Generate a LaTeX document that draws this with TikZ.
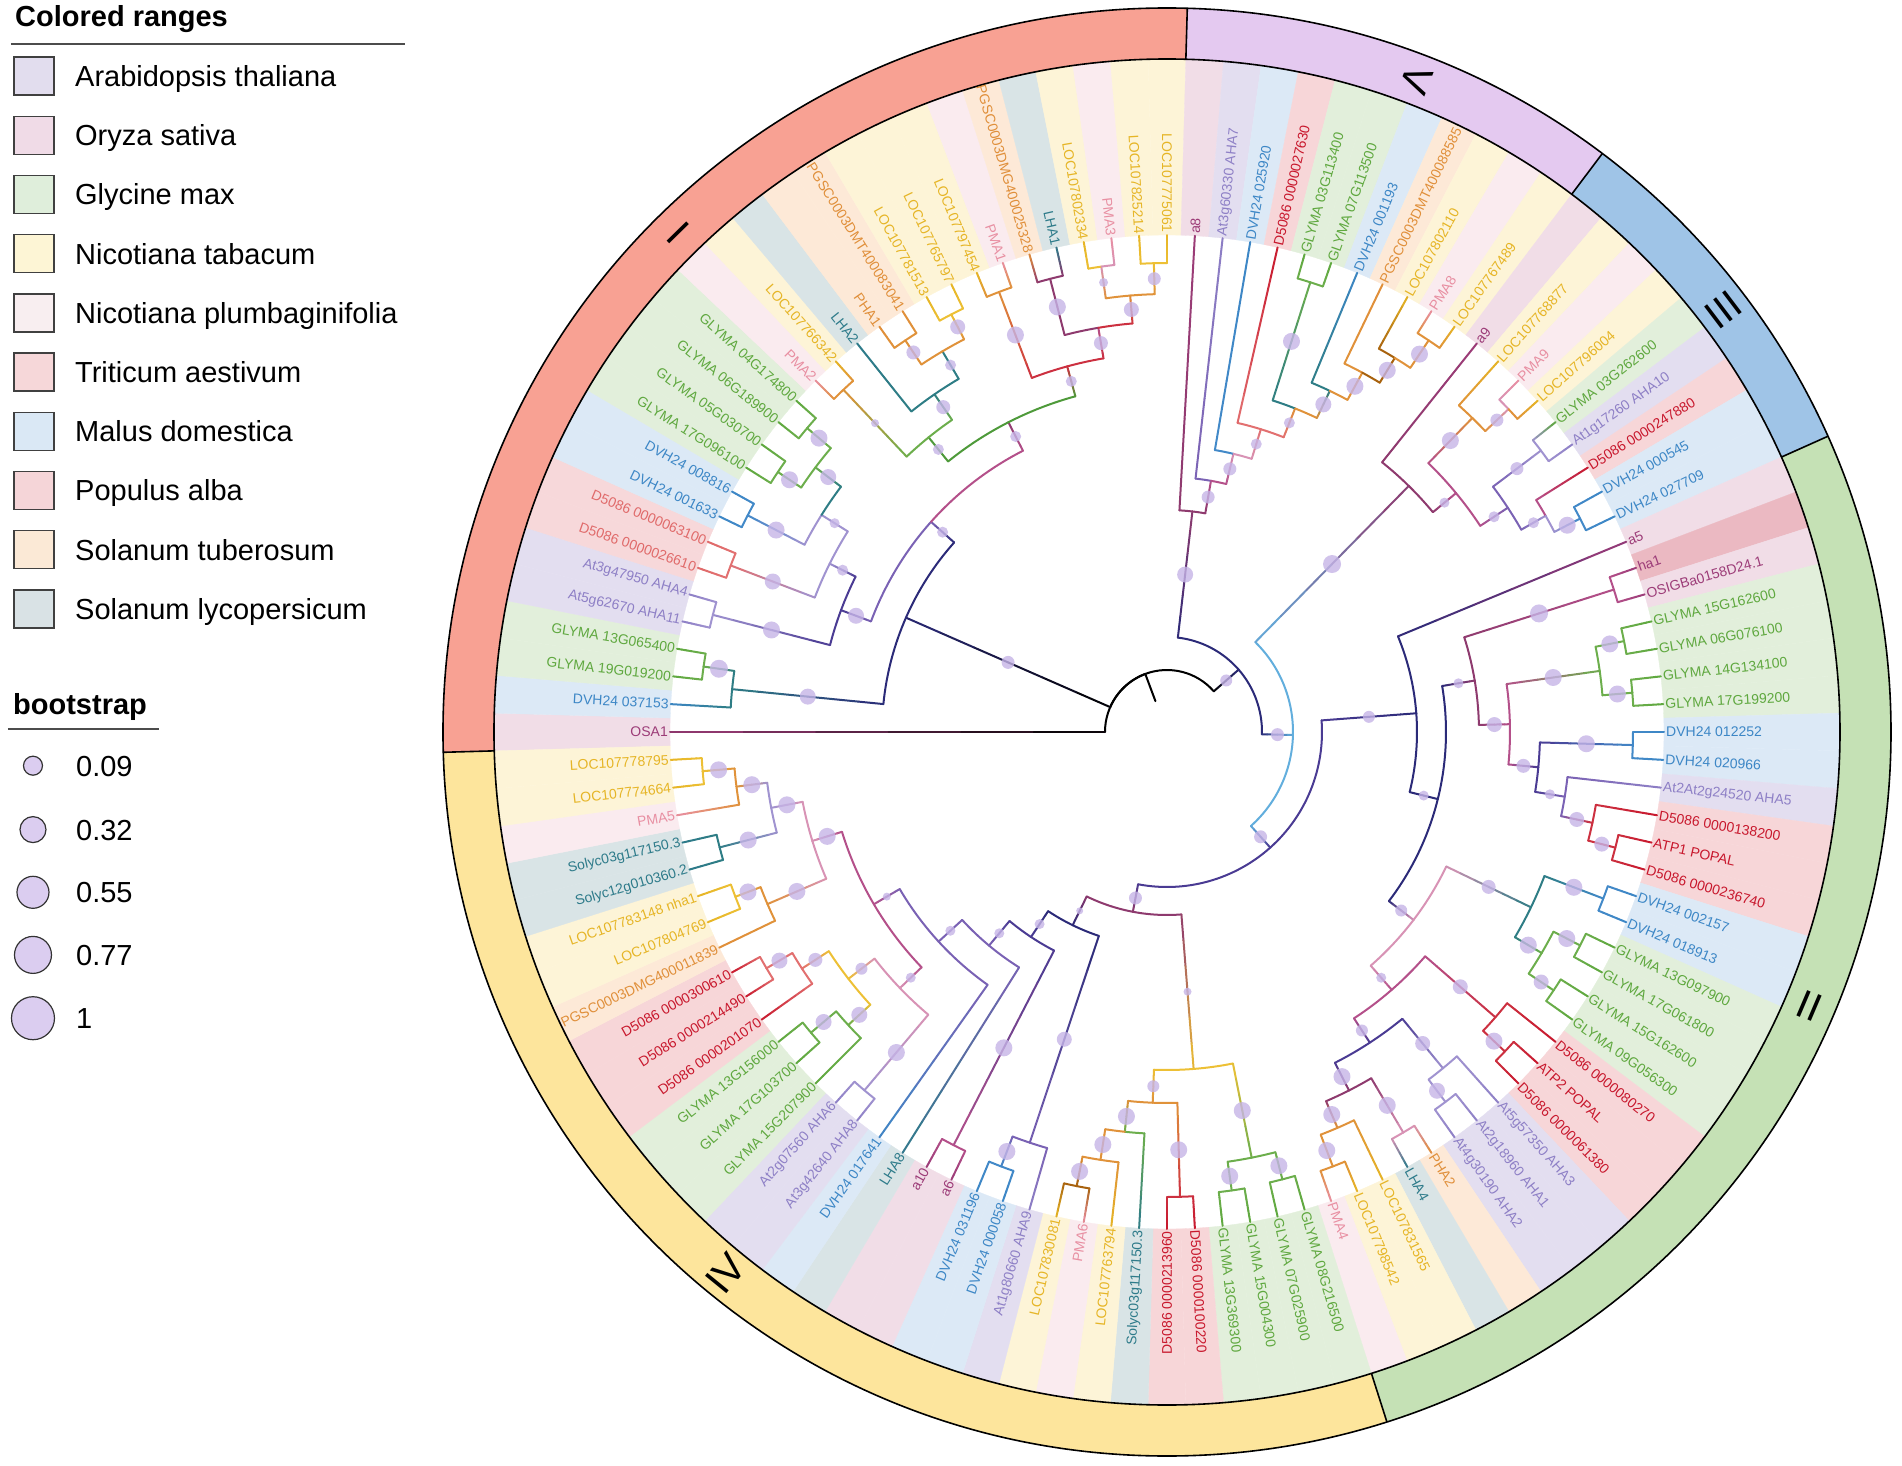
\documentclass[tikz,border=0pt]{standalone}
\usepackage{fontspec}
\setmainfont{Liberation Sans}
\pgfdeclarelayer{bg}
\pgfdeclarelayer{fg}
\pgfsetlayers{bg,main,fg}
% branch colours
\definecolor{nav}{HTML}{2B2A78}
\definecolor{dpur}{HTML}{4A3B93}
\definecolor{pur}{HTML}{7A62B4}
\definecolor{lav}{HTML}{A093D0}
\definecolor{mar}{HTML}{8E3A6E}
\definecolor{mag}{HTML}{B4508A}
\definecolor{pnk}{HTML}{D893B5}
\definecolor{tea}{HTML}{2E7D85}
\definecolor{grn}{HTML}{6CAE4C}
\definecolor{dgrn}{HTML}{4E9A3A}
\definecolor{org}{HTML}{E0923A}
\definecolor{brn}{HTML}{A8620E}
\definecolor{yel}{HTML}{EDC035}
\definecolor{blu}{HTML}{4289C8}
\definecolor{lblu}{HTML}{62AEDD}
\definecolor{rd}{HTML}{CC3040}
\definecolor{slm}{HTML}{E27070}
% text colours
\definecolor{tAt}{HTML}{8E80C6}
\definecolor{tGly}{HTML}{5FA83F}
\definecolor{tMal}{HTML}{3D87C6}
\definecolor{tPop}{HTML}{C8182D}
\definecolor{tPopL}{HTML}{E06A6A}
\definecolor{tTab}{HTML}{E6B526}
\definecolor{tPlu}{HTML}{E88FA2}
\definecolor{tTub}{HTML}{E08F3A}
\definecolor{tLyc}{HTML}{2E7B8A}
\definecolor{tOry}{HTML}{9C3C78}
% band colours
\definecolor{bAt}{HTML}{E3DEF0}
\definecolor{bOry}{HTML}{F1DDE7}
\definecolor{bGly}{HTML}{E2EFDB}
\definecolor{bTab}{HTML}{FDF4D7}
\definecolor{bPlu}{HTML}{FAEBEF}
\definecolor{bTri}{HTML}{F7D8DA}
\definecolor{bMal}{HTML}{DCE9F6}
\definecolor{bPop}{HTML}{F7D6D8}
\definecolor{bTub}{HTML}{FDE9D7}
\definecolor{bLyc}{HTML}{D9E4E6}
\definecolor{bHa}{HTML}{EBB9C2}
% legend colours
\definecolor{lgAt}{HTML}{E2DDEE}
\definecolor{lgOry}{HTML}{F0DBE7}
\definecolor{lgGly}{HTML}{DFEEDB}
\definecolor{lgTab}{HTML}{FDF5D5}
\definecolor{lgPlu}{HTML}{F8EEF0}
\definecolor{lgTri}{HTML}{F6D7D9}
\definecolor{lgMal}{HTML}{DAE8F5}
\definecolor{lgPop}{HTML}{F5D5D8}
\definecolor{lgTub}{HTML}{FBE9D6}
\definecolor{lgLyc}{HTML}{D9E2E5}
\definecolor{bootl}{HTML}{DBCDF0}
\definecolor{bootc}{HTML}{C5B4E6}
% ring colours
\definecolor{rI}{HTML}{F8A193}
\definecolor{rV}{HTML}{E4C9F0}
\definecolor{rIII}{HTML}{9FC4E7}
\definecolor{rII}{HTML}{C5E1B5}
\definecolor{rIV}{HTML}{FDE59C}
\tikzset{
  br/.style={line width=2pt,line cap=round},
  boot/.style={fill=bootc,fill opacity=0.8},
  lbl/.style={font=\fontsize{14}{16}\selectfont,inner sep=1pt},
  lgt/.style={font=\fontsize{29}{34}\selectfont,inner sep=0pt},
  lgh/.style={font=\bfseries\fontsize{29}{34}\selectfont,inner sep=0pt},
  rn/.style={font=\fontsize{40}{44}\selectfont,inner sep=0pt},
}
% edge: parent pos, parent r, child pos, child r, colour at parent, colour at child
\newcommand\TE[6]{%
  \pgfmathsetmacro\eA{180-(#1-1)*3.2142857}%
  \pgfmathsetmacro\eB{180-(#3-1)*3.2142857}%
  \draw[br,color=#5] (\eA:#2pt) arc[start angle=\eA,end angle=\eB,radius=#2pt];%
  \foreach \kk in {0,...,5}{%
    \pgfmathsetmacro\ra{#2+(#4-#2)*\kk/6}%
    \pgfmathsetmacro\rb{#2+(#4-#2)*(\kk+1)/6}%
    \pgfmathtruncatemacro\pc{(\kk+0.5)*100/6}%
    \draw[br,color=#6!\pc!#5] (\eB:\ra pt) -- (\eB:\rb pt);%
  }%
}
% edge to an internal node, with bootstrap dot
\newcommand\TN[7]{\TE{#1}{#2}{#3}{#4}{#5}{#6}%
  \pgfmathsetmacro\eM{(#2+#4)/2}%
  \begin{pgfonlayer}{fg}\fill[boot] (\eB:\eM pt) circle[radius=#7pt];\end{pgfonlayer}}
% leaf: index, label, text colour, band colour
\newcommand\Lf[4]{%
  \pgfmathsetmacro\lfA{180-(#1-1)*3.2142857}%
  \pgfmathsetmacro\lfB{\lfA+1.6071429}%
  \pgfmathsetmacro\lfC{\lfA-1.6071429}%
  \begin{pgfonlayer}{bg}%
  \filldraw[fill=#4,draw=#4,line width=0.3pt] (\lfB:497pt) arc[start angle=\lfB,end angle=\lfC,radius=497pt] -- (\lfC:673pt) arc[start angle=\lfC,end angle=\lfB,radius=673pt] -- cycle;%
  \end{pgfonlayer}%
  \pgfmathtruncatemacro\lfS{cos(\lfA)>0.001}%
  \ifnum\lfS=1
    \node[lbl,text=#3,rotate=\lfA,anchor=west] (L#1) at (\lfA:498pt) {#2};%
  \else
    \pgfmathsetmacro\lfR{\lfA+180}%
    \node[lbl,text=#3,rotate=\lfR,anchor=east] (L#1) at (\lfA:498pt) {#2};%
  \fi}
\newcommand\RingSec[3]{%
  \fill[#3] (#1:673pt) arc[start angle=#1,end angle=#2,radius=673pt] -- (#2:724pt) arc[start angle=#2,end angle=#1,radius=724pt] -- cycle;}
\newcommand\Lg[3]{%
  \pgfmathsetmacro\lgy{732-(76.1+#1*59.2)}%
  \node[draw=black!75,line width=1.5pt,fill=#3,minimum width=40pt,minimum height=38pt,inner sep=0pt] (lb#1) at (-1133,\lgy) {};%
  \node[lgt,anchor=base west] (lt#1) at (-1092,\lgy-10.4) {#2};}
\newcommand\Lb[4]{%
  \node[circle,draw=black!80,line width=1.2pt,fill=bootl,minimum size=#2pt,inner sep=0pt] (bc#4) at (-1134,#1) {};%
  \node[lgt,anchor=base west] (bl#4) at (-1091,#1-10.4) {#3};}
\begin{document}
\begin{tikzpicture}[x=1pt,y=1pt]
\useasboundingbox (-1167,-733) rectangle (735,732);
% ---------- outer clade ring ----------
\begin{pgfonlayer}{bg}
\RingSec{88.393}{181.607}{rI}
\RingSec{53.036}{88.393}{rV}
\RingSec{24.107}{53.036}{rIII}
\RingSec{-72.321}{24.107}{rII}
\RingSec{-178.393}{-72.321}{rIV}
\end{pgfonlayer}
\draw[line width=1.6pt] (0,0) circle[radius=673pt];
\draw[line width=1.6pt] (0,0) circle[radius=724pt];
\foreach \a in {88.393,53.036,24.107,-72.321,181.607}{\draw[line width=1.6pt] (\a:673pt) -- (\a:724pt);}
\node[rn,rotate=314.4] (nI) at (134.4:698.5pt) {I};
\node[rn,rotate=249.1] (nV) at (69.1:698.5pt) {V};
\node[rn,rotate=217.2] (nIII) at (37.2:698.5pt) {III};
\node[rn,rotate=156.9] (nII) at (-23.1:698.5pt) {II};
\node[rn,rotate=50.8] (nIV) at (230.8:698.5pt) {IV};
% ---------- leaves ----------
\Lf{1}{OSA1}{tOry}{bOry}
\Lf{2}{DVH24 037153}{tMal}{bMal}
\Lf{3}{GLYMA 19G019200}{tGly}{bGly}
\Lf{4}{GLYMA 13G065400}{tGly}{bGly}
\Lf{5}{At5g62670 AHA11}{tAt}{bAt}
\Lf{6}{At3g47950 AHA4}{tAt}{bAt}
\Lf{7}{D5086 0000026610}{tPopL}{bTri}
\Lf{8}{D5086 0000063100}{tPopL}{bTri}
\Lf{9}{DVH24 001633}{tMal}{bMal}
\Lf{10}{DVH24 008816}{tMal}{bMal}
\Lf{11}{GLYMA 17G096100}{tGly}{bGly}
\Lf{12}{GLYMA 05G030700}{tGly}{bGly}
\Lf{13}{GLYMA 06G189900}{tGly}{bGly}
\Lf{14}{GLYMA 04G174800}{tGly}{bGly}
\Lf{15}{PMA2}{tPlu}{bPlu}
\Lf{16}{LOC107766342}{tTab}{bTab}
\Lf{17}{LHA2}{tLyc}{bLyc}
\Lf{18}{PHA1}{tTub}{bTub}
\Lf{19}{PGSC0003DMT400083041}{tTub}{bTub}
\Lf{20}{LOC107781513}{tTab}{bTab}
\Lf{21}{LOC107765797}{tTab}{bTab}
\Lf{22}{LOC107797454}{tTab}{bTab}
\Lf{23}{PMA1}{tPlu}{bPlu}
\Lf{24}{PGSC0003DMG400025328}{tTub}{bTub}
\Lf{25}{LHA1}{tLyc}{bLyc}
\Lf{26}{LOC107802334}{tTab}{bTab}
\Lf{27}{PMA3}{tPlu}{bPlu}
\Lf{28}{LOC107825214}{tTab}{bTab}
\Lf{29}{LOC107775061}{tTab}{bTab}
\Lf{30}{a8}{tOry}{bOry}
\Lf{31}{At3g60330 AHA7}{tAt}{bAt}
\Lf{32}{DVH24 025920}{tMal}{bMal}
\Lf{33}{D5086 0000027630}{tPop}{bPop}
\Lf{34}{GLYMA 03G113400}{tGly}{bGly}
\Lf{35}{GLYMA 07G113500}{tGly}{bGly}
\Lf{36}{DVH24 001193}{tMal}{bMal}
\Lf{37}{PGSC0003DMT400088585}{tTub}{bTub}
\Lf{38}{LOC107802110}{tTab}{bTab}
\Lf{39}{PMA8}{tPlu}{bPlu}
\Lf{40}{LOC107767489}{tTab}{bTab}
\Lf{41}{a9}{tOry}{bOry}
\Lf{42}{LOC107768877}{tTab}{bTab}
\Lf{43}{PMA9}{tPlu}{bPlu}
\Lf{44}{LOC107796004}{tTab}{bTab}
\Lf{45}{GLYMA 03G262600}{tGly}{bGly}
\Lf{46}{At1g17260 AHA10}{tAt}{bAt}
\Lf{47}{D5086 0000247880}{tPop}{bPop}
\Lf{48}{DVH24 000545}{tMal}{bMal}
\Lf{49}{DVH24 027709}{tMal}{bMal}
\Lf{50}{a5}{tOry}{bOry}
\Lf{51}{ha1}{tOry}{bHa}
\Lf{52}{OSIGBa0158D24.1}{tOry}{bOry}
\Lf{53}{GLYMA 15G162600}{tGly}{bGly}
\Lf{54}{GLYMA 06G076100}{tGly}{bGly}
\Lf{55}{GLYMA 14G134100}{tGly}{bGly}
\Lf{56}{GLYMA 17G199200}{tGly}{bGly}
\Lf{57}{DVH24 012252}{tMal}{bMal}
\Lf{58}{DVH24 020966}{tMal}{bMal}
\Lf{59}{At2At2g24520 AHA5}{tAt}{bAt}
\Lf{60}{D5086 0000138200}{tPop}{bPop}
\Lf{61}{ATP1 POPAL}{tPop}{bPop}
\Lf{62}{D5086 0000236740}{tPop}{bPop}
\Lf{63}{DVH24 002157}{tMal}{bMal}
\Lf{64}{DVH24 018913}{tMal}{bMal}
\Lf{65}{GLYMA 13G097900}{tGly}{bGly}
\Lf{66}{GLYMA 17G061800}{tGly}{bGly}
\Lf{67}{GLYMA 15G162600}{tGly}{bGly}
\Lf{68}{GLYMA 09G056300}{tGly}{bGly}
\Lf{69}{D5086 0000080270}{tPop}{bPop}
\Lf{70}{ATP2 POPAL}{tPop}{bPop}
\Lf{71}{D5086 0000061380}{tPop}{bPop}
\Lf{72}{At5g57350 AHA3}{tAt}{bAt}
\Lf{73}{At2g18960 AHA1}{tAt}{bAt}
\Lf{74}{At4g30190 AHA2}{tAt}{bAt}
\Lf{75}{PHA2}{tTub}{bTub}
\Lf{76}{LHA4}{tLyc}{bLyc}
\Lf{77}{LOC107831565}{tTab}{bTab}
\Lf{78}{LOC107798542}{tTab}{bTab}
\Lf{79}{PMA4}{tPlu}{bPlu}
\Lf{80}{GLYMA 08G216500}{tGly}{bGly}
\Lf{81}{GLYMA 07G025900}{tGly}{bGly}
\Lf{82}{GLYMA 15G004300}{tGly}{bGly}
\Lf{83}{GLYMA 13G369300}{tGly}{bGly}
\Lf{84}{D5086 0000100220}{tPop}{bPop}
\Lf{85}{D5086 0000213960}{tPop}{bPop}
\Lf{86}{Solyc03g117150.3}{tLyc}{bLyc}
\Lf{87}{LOC107763794}{tTab}{bTab}
\Lf{88}{PMA6}{tPlu}{bPlu}
\Lf{89}{LOC107830081}{tTab}{bTab}
\Lf{90}{At1g80660 AHA9}{tAt}{bAt}
\Lf{91}{DVH24 000058}{tMal}{bMal}
\Lf{92}{DVH24 031196}{tMal}{bMal}
\Lf{93}{a6}{tOry}{bOry}
\Lf{94}{a10}{tOry}{bOry}
\Lf{95}{LHA8}{tLyc}{bLyc}
\Lf{96}{DVH24 017641}{tMal}{bMal}
\Lf{97}{At3g42640 AHA8}{tAt}{bAt}
\Lf{98}{At2g07560 AHA6}{tAt}{bAt}
\Lf{99}{GLYMA 15G207900}{tGly}{bGly}
\Lf{100}{GLYMA 17G103700}{tGly}{bGly}
\Lf{101}{GLYMA 13G156000}{tGly}{bGly}
\Lf{102}{D5086 0000201070}{tPop}{bPop}
\Lf{103}{D5086 0000214490}{tPop}{bPop}
\Lf{104}{D5086 0000300610}{tPop}{bPop}
\Lf{105}{PGSC0003DMG400011839}{tTub}{bTub}
\Lf{106}{LOC107804769}{tTab}{bTab}
\Lf{107}{LOC107783148 nha1}{tTab}{bTab}
\Lf{108}{Solyc12g010360.2}{tLyc}{bLyc}
\Lf{109}{Solyc03g117150.3}{tLyc}{bLyc}
\Lf{110}{PMA5}{tPlu}{bPlu}
\Lf{111}{LOC107774664}{tTab}{bTab}
\Lf{112}{LOC107778795}{tTab}{bTab}
% ---------- tree ----------
\pgfmathsetmacro\rootang{180-(22.617-1)*3.2142857}
\draw[br,black] (\rootang:62pt) -- (\rootang:33pt);
\TE{22.617}{62}{1}{497}{black}{tOry}
\TN{22.617}{62}{8.359}{285}{black}{nav}{6.5}
\TN{22.617}{62}{44.234}{95}{black}{nav}{6}
% clade I
\TN{8.359}{285}{2.75}{437}{nav}{tea}{8}
\TN{8.359}{285}{13.969}{316}{nav}{pur}{5.5}
\TE{2.75}{437}{2}{497}{tea}{tMal}
\TN{2.75}{437}{3.5}{468}{tea}{grn}{9}
\TE{3.5}{468}{3}{497}{grn}{tGly}
\TE{3.5}{468}{4}{497}{grn}{tGly}
\TN{13.969}{316}{7.375}{348}{pur}{dpur}{8}
\TN{13.969}{316}{20.563}{348}{mag}{mar}{5.5}
\TN{7.375}{348}{5.5}{469}{dpur}{lav}{8.5}
\TN{7.375}{348}{9.25}{377}{dpur}{lav}{5.5}
\TE{5.5}{469}{5}{497}{lav}{tAt}
\TE{5.5}{469}{6}{497}{lav}{tAt}
\TN{9.25}{377}{7.5}{467}{lav}{slm}{8}
\TN{9.25}{377}{11}{408}{lav}{lav}{5}
\TE{7.5}{467}{7}{497}{slm}{tPopL}
\TE{7.5}{467}{8}{497}{slm}{tPopL}
\TN{11}{408}{9.5}{472}{lav}{blu}{8.5}
\TN{11}{408}{12.5}{440}{tea}{grn}{8}
\TE{9.5}{472}{9}{497}{blu}{tMal}
\TE{9.5}{472}{10}{497}{blu}{tMal}
\TN{12.5}{440}{11.5}{468}{grn}{grn}{8.5}
\TN{12.5}{440}{13.5}{471}{grn}{grn}{8.5}
\TE{11.5}{468}{11}{497}{grn}{tGly}
\TE{11.5}{468}{12}{497}{grn}{tGly}
\TE{13.5}{471}{13}{497}{grn}{tGly}
\TE{13.5}{471}{14}{497}{grn}{tGly}
\TN{20.563}{348}{16.875}{379}{dgrn}{dgrn}{5.5}
\TN{20.563}{348}{24.25}{379}{dgrn}{rd}{5.5}
\TN{16.875}{379}{15.5}{471}{grn}{org}{4}
\TN{16.875}{379}{18.25}{410}{grn}{tea}{7}
\TE{15.5}{471}{15}{497}{org}{tPlu}
\TE{15.5}{471}{16}{497}{org}{tTab}
\TE{18.25}{410}{17}{497}{tea}{tLyc}
\TN{18.25}{410}{19.5}{442}{tea}{tea}{5.5}
\TN{19.5}{442}{18.5}{471}{org}{org}{7}
\TN{19.5}{442}{20.5}{470}{org}{yel}{7.5}
\TE{18.5}{471}{18}{497}{org}{tTub}
\TE{18.5}{471}{19}{497}{org}{tTub}
\TE{20.5}{470}{20}{497}{yel}{tTab}
\TE{20.5}{470}{21}{497}{yel}{tTab}
\TN{24.25}{379}{22.5}{471}{rd}{org}{8.5}
\TN{24.25}{379}{26}{410}{rd}{mag}{7}
\TE{22.5}{471}{22}{497}{org}{tTab}
\TE{22.5}{471}{23}{497}{org}{tPlu}
\TN{26}{410}{24.5}{468}{mar}{mar}{8.5}
\TN{26}{410}{27.5}{438}{rd}{org}{7.5}
\TE{24.5}{468}{24}{497}{mar}{tTub}
\TE{24.5}{468}{25}{497}{mar}{tLyc}
\TN{27.5}{438}{26.5}{470}{org}{pnk}{4.5}
\TN{27.5}{438}{28.5}{469}{org}{yel}{6.5}
\TE{26.5}{470}{26}{497}{yel}{tTab}
\TE{26.5}{470}{27}{497}{pnk}{tPlu}
\TE{28.5}{469}{28}{497}{yel}{tTab}
\TE{28.5}{469}{29}{497}{yel}{tTab}
% clade V
\TN{44.234}{95}{31.045}{222}{nav}{mar}{8}
\TN{44.234}{95}{57.424}{126}{nav}{lblu}{6.5}
\TE{31.045}{222}{30}{497}{mar}{tOry}
\TN{31.045}{222}{32.090}{255}{mar}{mag}{6.5}
\TE{32.090}{255}{31}{497}{pur}{tAt}
\TN{32.090}{255}{33.180}{286}{mag}{pnk}{6.5}
\TE{33.180}{286}{32}{497}{blu}{tMal}
\TN{33.180}{286}{34.359}{317}{pnk}{slm}{5.5}
\TE{34.359}{317}{33}{497}{slm}{tPop}
\TN{34.359}{317}{35.719}{348}{slm}{org}{5.5}
\TN{35.719}{348}{34.5}{472}{tea}{grn}{8.5}
\TN{35.719}{348}{36.938}{378}{org}{tea}{8}
\TE{34.5}{472}{34}{497}{grn}{tGly}
\TE{34.5}{472}{35}{497}{grn}{tGly}
\TE{36.938}{378}{36}{497}{tea}{tMal}
\TN{36.938}{378}{37.875}{409}{org}{org}{8.5}
\TE{37.875}{409}{37}{497}{org}{tTub}
\TN{37.875}{409}{38.75}{438}{brn}{brn}{8.5}
\TE{38.75}{438}{38}{497}{brn}{tTab}
\TN{38.75}{438}{39.5}{471}{org}{org}{8.5}
\TE{39.5}{471}{39}{497}{org}{tPlu}
\TE{39.5}{471}{40}{497}{org}{tTab}
% clade III
\TN{57.424}{126}{42.844}{345}{lblu}{mar}{9}
\TN{57.424}{126}{72.004}{155}{lblu}{dpur}{6.5}
\TE{42.844}{345}{41}{497}{mar}{tOry}
\TN{42.844}{345}{44.688}{375}{mar}{mag}{5}
\TN{44.688}{375}{42.75}{438}{mag}{org}{8.5}
\TN{44.688}{375}{46.625}{408}{mag}{pur}{5.5}
\TE{42.75}{438}{42}{497}{org}{tTab}
\TN{42.75}{438}{43.5}{470}{org}{pnk}{6.5}
\TE{43.5}{470}{43}{497}{pnk}{tPlu}
\TE{43.5}{470}{44}{497}{org}{tTab}
\TN{46.625}{408}{45.5}{468}{pur}{lav}{6.5}
\TN{46.625}{408}{47.75}{436}{pur}{lav}{5.5}
\TE{45.5}{468}{45}{497}{lav}{tGly}
\TE{45.5}{468}{46}{497}{lav}{tAt}
\TE{47.75}{436}{47}{497}{mag}{tPop}
\TN{47.75}{436}{48.5}{465}{lav}{blu}{8.5}
\TE{48.5}{465}{48}{497}{blu}{tMal}
\TE{48.5}{465}{49}{497}{blu}{tMal}
% clade II
\TN{72.004}{155}{55.664}{250}{dpur}{nav}{6}
\TN{72.004}{155}{88.345}{183}{dpur}{mar}{6.5}
\TE{55.664}{250}{50}{497}{nav}{tOry}
\TN{55.664}{250}{61.328}{279}{nav}{nav}{5}
\TN{61.328}{279}{54.047}{312}{nav}{mar}{5}
\TN{61.328}{279}{68.609}{310}{nav}{pnk}{6}
\TN{54.047}{312}{51.5}{469}{mar}{mag}{9}
\TN{54.047}{312}{56.594}{343}{mar}{mag}{7.5}
\TE{51.5}{469}{51}{497}{mag}{tOry}
\TE{51.5}{469}{52}{497}{mag}{tOry}
\TN{56.594}{343}{54.5}{437}{mag}{grn}{8.5}
\TN{56.594}{343}{58.688}{373}{mag}{dpur}{7}
\TN{54.5}{437}{53.5}{466}{grn}{grn}{8.5}
\TN{54.5}{437}{55.5}{467}{grn}{grn}{8.5}
\TE{53.5}{466}{53}{497}{grn}{tGly}
\TE{53.5}{466}{54}{497}{grn}{tGly}
\TE{55.5}{467}{55}{497}{grn}{tGly}
\TE{55.5}{467}{56}{497}{grn}{tGly}
\TN{58.688}{373}{57.5}{466}{dpur}{blu}{8.5}
\TN{58.688}{373}{59.875}{403}{dpur}{pur}{5}
\TE{57.5}{466}{57}{497}{blu}{tMal}
\TE{57.5}{466}{58}{497}{blu}{tMal}
\TE{59.875}{403}{59}{497}{pur}{tAt}
\TN{59.875}{403}{60.75}{435}{pur}{rd}{7.5}
\TE{60.75}{435}{60}{497}{rd}{tPop}
\TN{60.75}{435}{61.5}{463}{rd}{rd}{7.5}
\TE{61.5}{463}{61}{497}{rd}{tPop}
\TE{61.5}{463}{62}{497}{rd}{tPop}
\TN{68.609}{310}{65}{404}{pnk}{tea}{7}
\TN{68.609}{310}{72.219}{342}{pnk}{mag}{5}
\TN{65}{404}{63.5}{467}{tea}{blu}{8.5}
\TN{65}{404}{66.5}{435}{tea}{grn}{8.5}
\TE{63.5}{467}{63}{497}{blu}{tMal}
\TE{63.5}{467}{64}{497}{blu}{tMal}
\TN{66.5}{435}{65.5}{465}{grn}{grn}{8.5}
\TN{66.5}{435}{67.5}{465}{grn}{grn}{7.5}
\TE{65.5}{465}{65}{497}{grn}{tGly}
\TE{65.5}{465}{66}{497}{grn}{tGly}
\TE{67.5}{465}{67}{497}{grn}{tGly}
\TE{67.5}{465}{68}{497}{grn}{tGly}
\TN{72.219}{342}{69.75}{435}{mag}{rd}{7.5}
\TN{72.219}{342}{74.688}{371}{mag}{dpur}{6}
\TE{69.75}{435}{69}{497}{rd}{tPop}
\TN{69.75}{435}{70.5}{465}{rd}{rd}{8.5}
\TE{70.5}{465}{70}{497}{rd}{tPop}
\TE{70.5}{465}{71}{497}{rd}{tPop}
\TN{74.688}{371}{72.75}{435}{dpur}{lav}{7.5}
\TN{74.688}{371}{76.625}{402}{dpur}{mar}{8.5}
\TE{72.75}{435}{72}{497}{lav}{tAt}
\TN{72.75}{435}{73.5}{463}{lav}{lav}{8}
\TE{73.5}{463}{73}{497}{lav}{tAt}
\TE{73.5}{463}{74}{497}{lav}{tAt}
\TN{76.625}{402}{75.5}{465}{mar}{pnk}{8.5}
\TN{76.625}{402}{77.75}{431}{mar}{org}{8.5}
\TE{75.5}{465}{75}{497}{pnk}{tTub}
\TE{75.5}{465}{76}{497}{pnk}{tLyc}
\TE{77.75}{431}{77}{497}{org}{tTab}
\TN{77.75}{431}{78.5}{465}{org}{org}{8.5}
\TE{78.5}{465}{78}{497}{org}{tTab}
\TE{78.5}{465}{79}{497}{org}{tPlu}
% clade IV
\TN{88.345}{183}{83.594}{338}{mar}{yel}{4}
\TN{88.345}{183}{93.096}{215}{mar}{nav}{3.5}
\TN{83.594}{338}{81.5}{434}{yel}{grn}{8.5}
\TN{83.594}{338}{85.688}{371}{yel}{org}{6}
\TN{81.5}{434}{80.5}{462}{grn}{grn}{8.5}
\TN{81.5}{434}{82.5}{463}{grn}{grn}{8.5}
\TE{80.5}{462}{80}{497}{grn}{tGly}
\TE{80.5}{462}{81}{497}{grn}{tGly}
\TE{82.5}{463}{82}{497}{grn}{tGly}
\TE{82.5}{463}{83}{497}{grn}{tGly}
\TN{85.688}{371}{84.5}{465}{org}{rd}{8.5}
\TN{85.688}{371}{86.875}{402}{org}{grn}{8.5}
\TE{84.5}{465}{84}{497}{rd}{tPop}
\TE{84.5}{465}{85}{497}{rd}{tPop}
\TE{86.875}{402}{86}{497}{grn}{tLyc}
\TN{86.875}{402}{87.75}{433}{org}{org}{8.5}
\TE{87.75}{433}{87}{497}{org}{tTab}
\TN{87.75}{433}{88.5}{463}{org}{brn}{8.5}
\TE{88.5}{463}{88}{497}{brn}{tPlu}
\TE{88.5}{463}{89}{497}{brn}{tTab}
\TN{93.096}{215}{90.75}{433}{nav}{pur}{7.5}
\TN{93.096}{215}{95.441}{246}{nav}{dpur}{5}
\TE{90.75}{433}{90}{497}{pur}{tAt}
\TN{90.75}{433}{91.5}{465}{pur}{blu}{8.5}
\TE{91.5}{465}{91}{497}{blu}{tMal}
\TE{91.5}{465}{92}{497}{blu}{tMal}
\TN{95.441}{246}{93.5}{465}{dpur}{mag}{8.5}
\TN{95.441}{246}{97.383}{278}{dpur}{pur}{5}
\TE{93.5}{465}{93}{497}{mag}{tOry}
\TE{93.5}{465}{94}{497}{mag}{tOry}
\TE{97.383}{278}{95}{497}{pur}{tLyc}
\TN{97.383}{278}{99.766}{310}{pur}{pur}{5}
\TE{99.766}{310}{96}{497}{pur}{tMal}
\TN{99.766}{310}{103.531}{340}{pur}{mag}{4}
\TN{103.531}{340}{99.375}{370}{mag}{pnk}{5}
\TN{103.531}{340}{107.688}{371}{mag}{pnk}{8.5}
\TN{99.375}{370}{97.5}{469}{pnk}{lav}{8.5}
\TN{99.375}{370}{101.25}{403}{pnk}{yel}{6}
\TE{97.5}{469}{97}{497}{lav}{tAt}
\TE{97.5}{469}{98}{497}{lav}{tAt}
\TN{101.25}{403}{99.75}{433}{yel}{grn}{8}
\TN{101.25}{403}{102.75}{435}{yel}{slm}{7}
\TE{99.75}{433}{99}{497}{grn}{tGly}
\TN{99.75}{433}{100.5}{466}{grn}{grn}{8}
\TE{100.5}{466}{100}{497}{grn}{tGly}
\TE{100.5}{466}{101}{497}{grn}{tGly}
\TE{102.75}{435}{102}{497}{slm}{tPop}
\TN{102.75}{435}{103.5}{465}{slm}{slm}{8}
\TE{103.5}{465}{103}{497}{slm}{tPop}
\TE{103.5}{465}{104}{497}{slm}{tPop}
\TN{107.688}{371}{105.75}{435}{pnk}{org}{8.5}
\TN{107.688}{371}{109.625}{403}{pnk}{lav}{8.5}
\TE{105.75}{435}{105}{497}{org}{tTub}
\TN{105.75}{435}{106.5}{462}{org}{yel}{8.5}
\TE{106.5}{462}{106}{497}{yel}{tTab}
\TE{106.5}{462}{107}{497}{yel}{tTab}
\TN{109.625}{403}{108.5}{462}{lav}{tea}{8.5}
\TN{109.625}{403}{110.75}{434}{lav}{org}{8.5}
\TE{108.5}{462}{108}{497}{tea}{tLyc}
\TE{108.5}{462}{109}{497}{tea}{tLyc}
\TE{110.75}{434}{110}{497}{org}{tPlu}
\TN{110.75}{434}{111.5}{466}{org}{yel}{8.5}
\TE{111.5}{466}{111}{497}{yel}{tTab}
\TE{111.5}{466}{112}{497}{yel}{tTab}
% ---------- legend ----------
\node[lgh,anchor=base west] (tcr) at (-1152,705) {Colored ranges};
\draw[line width=1.2pt,color=black!70] (-1156,688) -- (-762,688);
\Lg{0}{Arabidopsis thaliana}{lgAt}
\Lg{1}{Oryza sativa}{lgOry}
\Lg{2}{Glycine max}{lgGly}
\Lg{3}{Nicotiana tabacum}{lgTab}
\Lg{4}{Nicotiana plumbaginifolia}{lgPlu}
\Lg{5}{Triticum aestivum}{lgTri}
\Lg{6}{Malus domestica}{lgMal}
\Lg{7}{Populus alba}{lgPop}
\Lg{8}{Solanum tuberosum}{lgTub}
\Lg{9}{Solanum lycopersicum}{lgLyc}
\node[lgh,anchor=base west] (tbs) at (-1154,18) {bootstrap};
\draw[line width=1.2pt,color=black!70] (-1159,3) -- (-1008,3);
\Lb{-33.7}{19}{0.09}{a}
\Lb{-97.6}{26}{0.32}{b}
\Lb{-160.3}{32}{0.55}{c}
\Lb{-222.9}{37}{0.77}{d}
\Lb{-286.2}{43}{1}{e}
\end{tikzpicture}
\end{document}
